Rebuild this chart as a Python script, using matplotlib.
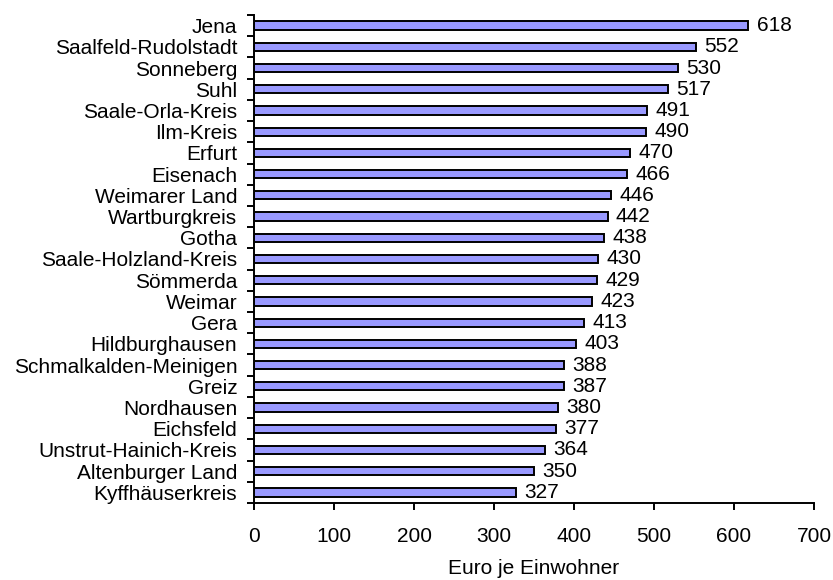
import matplotlib
matplotlib.use("Agg")
import matplotlib.pyplot as plt
import numpy as np

plt.rcParams['font.family'] = ['Liberation Sans', 'DejaVu Sans']

categories = ["Jena", "Saalfeld-Rudolstadt", "Sonneberg", "Suhl", "Saale-Orla-Kreis",
              "Ilm-Kreis", "Erfurt", "Eisenach", "Weimarer Land", "Wartburgkreis",
              "Gotha", "Saale-Holzland-Kreis", "Sömmerda", "Weimar", "Gera",
              "Hildburghausen", "Schmalkalden-Meinigen", "Greiz", "Nordhausen",
              "Eichsfeld", "Unstrut-Hainich-Kreis", "Altenburger Land", "Kyffhäuserkreis"]
values = [618, 552, 530, 517, 491, 490, 470, 466, 446, 442, 438, 430, 429, 423, 413,
          403, 388, 387, 380, 377, 364, 350, 327]
xticks = [0, 100, 200, 300, 400, 500, 600, 700]
xlabel = "Euro je Einwohner"

FS = 15

W, H = 833, 580
fig = plt.figure(figsize=(W / 100, H / 100), dpi=100)
left, right, top, bottom = 254, 814, 15, 503
ax = fig.add_axes([left / W, 1 - bottom / H, (right - left) / W, (bottom - top) / H])

n = len(categories)
y = np.arange(n)
ax.barh(y, values, height=0.39, color='#9999FF', edgecolor='black', linewidth=1.4)
for yi, v in zip(y, values):
    ax.annotate(str(v), xy=(v, yi), xytext=(6, 0), textcoords='offset points',
                va='center', ha='left', fontsize=FS)

ax.set_ylim(n - 0.5, -0.5)
ax.set_xlim(0, 700)
ax.set_yticks(y)
ax.set_yticklabels(categories, fontsize=FS)
ax.tick_params(axis='y', which='major', length=0, pad=12)
ax.set_yticks(np.arange(n + 1) - 0.5, minor=True)
ax.tick_params(axis='y', which='minor', length=5, width=1.4, direction='out')
ax.set_xticks(xticks)
ax.tick_params(axis='x', length=5, width=1.4, direction='out', pad=12, labelsize=FS)
ax.xaxis.set_minor_locator(matplotlib.ticker.NullLocator())
ax.set_xlabel(xlabel, fontsize=FS, labelpad=10)
for s in ['top', 'right']:
    ax.spines[s].set_visible(False)
for s in ['left', 'bottom']:
    ax.spines[s].set_linewidth(1.4)

fig.savefig("out.png", dpi=100)
